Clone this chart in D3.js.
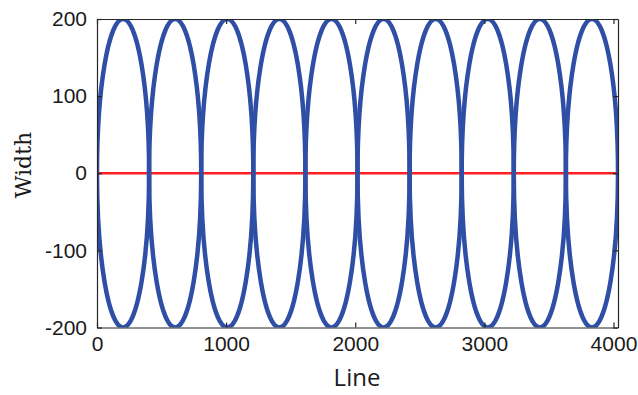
<!DOCTYPE html>
<html>
<head>
<meta charset="utf-8">
<script src="https://cdn.jsdelivr.net/npm/d3@7"></script>
<style>
  html, body { margin: 0; padding: 0; background: #fff; }
  svg { display: block; }
  .ylabel { font-family: "DejaVu Serif", "Liberation Serif", serif; }
  .xlabel { font-family: "Open Sans", "Noto Sans", sans-serif; }
  .tick text { font-family: "Liberation Sans", Arial, sans-serif; }
</style>
</head>
<body>
<svg id="chart" width="638" height="395"></svg>
<script>
// Ellipse outlines: centre along the line axis, half-width (line units), half-height (width units)
const ellipseCenters = [201.75, 605.25, 1008.75, 1412.25, 1815.75, 2219.25, 2622.75, 3026.25, 3429.75, 3833.25];
const ellipseHalfWidths = [201.75, 201.75, 201.75, 201.75, 201.75, 201.75, 201.75, 201.75, 201.75, 201.75];
const ellipseHalfHeights = [200, 200, 200, 200, 200, 200, 200, 200, 200, 200];

// Centre line
const centreLineX = [0, 4035];
const centreLineY = [0, 0];

const xDomain = [0, 4035];
const yDomain = [-200, 200];
const xTicks = [0, 1000, 2000, 3000, 4000];
const yTicks = [-200, -100, 0, 100, 200];

const svg = d3.select("#chart");
const plotL = 97, plotR = 618, plotT = 19, plotB = 327.5;

const x = d3.scaleLinear().domain(xDomain).range([plotL, plotR]);
const y = d3.scaleLinear().domain(yDomain).range([plotB, plotT]);

svg.append("defs").append("clipPath").attr("id", "plotClip")
  .append("rect")
  .attr("x", plotL).attr("y", plotT)
  .attr("width", plotR - plotL).attr("height", plotB - plotT);

const plot = svg.append("g").attr("clip-path", "url(#plotClip)");

// red centre line
plot.append("path")
  .datum(centreLineX.map((d, i) => [d, centreLineY[i]]))
  .attr("d", d3.line().x(d => x(d[0])).y(d => y(d[1])))
  .attr("fill", "none")
  .attr("stroke", "#ff2020")
  .attr("stroke-width", 2.5);

// blue ellipses
plot.selectAll("ellipse.lobe")
  .data(ellipseCenters.map((c, i) => ({ c, rx: ellipseHalfWidths[i], ry: ellipseHalfHeights[i] })))
  .join("ellipse")
  .attr("class", "lobe")
  .attr("cx", d => x(d.c))
  .attr("cy", y(0))
  .attr("rx", d => x(d.rx) - x(0))
  .attr("ry", d => y(0) - y(d.ry))
  .attr("fill", "none")
  .attr("stroke", "#2e4fa5")
  .attr("stroke-width", 4.5);

// axes box with inward ticks on all sides
const axisColor = "#262626";
const tickLen = 5;
const fmt = d => String(d);

const axB = svg.append("g").attr("transform", `translate(0,${plotB})`)
  .call(d3.axisBottom(x).tickValues(xTicks).tickSizeInner(-tickLen).tickSizeOuter(0).tickPadding(9).tickFormat(fmt));
const axT = svg.append("g").attr("transform", `translate(0,${plotT})`)
  .call(d3.axisTop(x).tickValues(xTicks).tickSizeInner(-tickLen).tickSizeOuter(0).tickFormat(""));
const axL = svg.append("g").attr("transform", `translate(${plotL},0)`)
  .call(d3.axisLeft(y).tickValues(yTicks).tickSizeInner(-tickLen).tickSizeOuter(0).tickPadding(10).tickFormat(fmt));
const axR = svg.append("g").attr("transform", `translate(${plotR},0)`)
  .call(d3.axisRight(y).tickValues(yTicks).tickSizeInner(-tickLen).tickSizeOuter(0).tickFormat(""));

[axB, axT, axL, axR].forEach(g => {
  g.attr("font-family", null).attr("font-size", null);
  g.select(".domain").attr("stroke", axisColor).attr("stroke-width", 1.2);
  g.selectAll(".tick line").attr("stroke", axisColor).attr("stroke-width", 1.2);
  g.selectAll(".tick text")
    .attr("fill", "#1a1a1a")
    .attr("font-size", 21);
});

// axis titles
svg.append("text")
  .attr("class", "xlabel")
  .attr("x", 357).attr("y", 386)
  .attr("text-anchor", "middle")
  .attr("font-size", 24)
  .attr("fill", "#1a1a1a")
  .text("Line");

svg.append("text")
  .attr("class", "ylabel")
  .attr("transform", "translate(31,165) rotate(-90)")
  .attr("text-anchor", "middle")
  .attr("font-size", 22)
  .attr("fill", "#1a1a1a")
  .text("Width");
</script>
</body>
</html>
